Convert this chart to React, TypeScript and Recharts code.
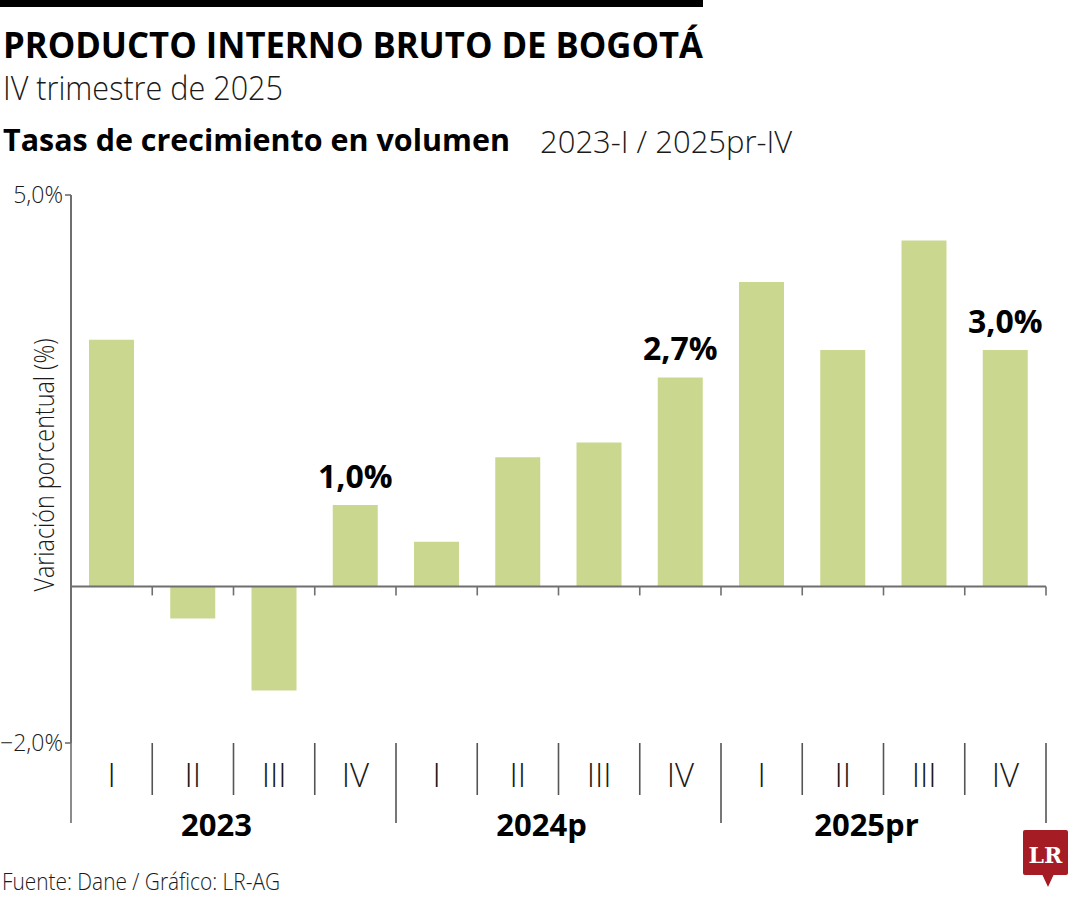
import type React from 'react'
import { Bar, BarChart, LabelList, ReferenceLine, XAxis, YAxis } from 'recharts'

const FUENTE = '"Open Sans", "Noto Sans", sans-serif'
const COR_BARRA = '#cad78e'
const COR_EIXO = '#6f6f6f'

const trimestres = ['I', 'II', 'III', 'IV', 'I', 'II', 'III', 'IV', 'I', 'II', 'III', 'IV']
const anios = ['2023', '2024p', '2025pr']
const valores = [3.15, -0.41, -1.33, 1.04, 0.57, 1.65, 1.84, 2.67, 3.89, 3.02, 4.42, 3.02]
const etiquetas = ['', '', '', '1,0%', '', '', '', '2,7%', '', '', '', '3,0%']
const ticksY = [-2, 5]

const dados = valores.map((v, i) => ({
  clave: `${anios[Math.floor(i / 4)]}-${trimestres[i]}`,
  valor: v,
  etiqueta: etiquetas[i]
}))

function TickTrimestre(props: any): React.JSX.Element {
  const { x, y, payload, index } = props
  const medio = payload?.offset ?? 40
  const finAnio = index % 4 === 3
  return (
    <g>
      <text
        x={x}
        y={y + 44}
        textAnchor="middle"
        fontFamily={FUENTE}
        fontWeight={300}
        fontSize={33}
        fill="#1a1a1a"
      >
        {trimestres[index]}
      </text>
      <line
        x1={x + medio}
        x2={x + medio}
        y1={y}
        y2={y + (finAnio ? 80 : 52)}
        stroke="#555"
        strokeWidth={1.6}
      />
      {index === 0 && (
        <line x1={x - medio} x2={x - medio} y1={y} y2={y + 80} stroke={COR_EIXO} strokeWidth={1.6} />
      )}
      {index % 4 === 1 && (
        <text
          x={x + medio - 17}
          y={y + 93}
          textAnchor="middle"
          fontFamily={FUENTE}
          fontWeight={700}
          fontSize={31}
          fill="#000"
        >
          {anios[Math.floor(index / 4)]}
        </text>
      )}
    </g>
  )
}

function LineaCero(props: any): React.JSX.Element {
  const { x1, y1, x2 } = props
  const paso = (x2 - x1) / valores.length
  return (
    <g>
      <line x1={x1} x2={x2} y1={y1} y2={y1} stroke={COR_EIXO} strokeWidth={2} />
      {valores.map((_, i) => (
        <line
          key={i}
          x1={x1 + paso * (i + 1)}
          x2={x1 + paso * (i + 1)}
          y1={y1}
          y2={y1 + 9}
          stroke={COR_EIXO}
          strokeWidth={1.6}
        />
      ))}
    </g>
  )
}

export default function App(): React.JSX.Element {
  return (
    <div style={{ position: 'absolute', left: 0, top: 0, width: 1080, height: 900, background: '#fff' }}>
      <BarChart
        width={1080}
        height={900}
        data={dados}
        margin={{ top: 195, right: 34, left: 0, bottom: 0 }}
      >
        <XAxis
          dataKey="clave"
          height={157}
          axisLine={false}
          tickLine={false}
          tickSize={0}
          tickMargin={0}
          interval={0}
          tick={<TickTrimestre />}
        />
        <YAxis
          width={71}
          domain={[-2, 5]}
          ticks={ticksY}
          allowDataOverflow
          axisLine={{ stroke: COR_EIXO, strokeWidth: 2 }}
          tickLine={{ stroke: COR_EIXO, strokeWidth: 1.6 }}
          tickSize={6}
          tickMargin={2}
          tickFormatter={(v: number) => `${v < 0 ? '−' : ''}${Math.abs(v).toFixed(1).replace('.', ',')}%`}
          tick={{ fontFamily: FUENTE, fontWeight: 300, fontSize: 23, fill: '#1a1a1a' }}
        />
        <Bar dataKey="valor" fill={COR_BARRA} barSize={45} isAnimationActive={false}>
          <LabelList
            dataKey="etiqueta"
            position="top"
            offset={17}
            style={{ fontFamily: FUENTE, fontWeight: 700, fontSize: 32, fill: '#000' }}
          />
        </Bar>
        <ReferenceLine y={0} shape={<LineaCero />} />
      </BarChart>

      <svg
        width={1080}
        height={900}
        style={{ position: 'absolute', left: 0, top: 0, pointerEvents: 'none' }}
      >
        <rect x={0} y={0} width={703} height={7} fill="#000" />
        <text
          x={3}
          y={58}
          fontFamily={FUENTE}
          fontWeight={700}
          fontSize={35}
          fill="#000"
          textLength={700}
          lengthAdjust="spacingAndGlyphs"
        >
          PRODUCTO INTERNO BRUTO DE BOGOTÁ
        </text>
        <text
          x={3}
          y={100}
          fontFamily={FUENTE}
          fontWeight={300}
          fontSize={33}
          fill="#1a1a1a"
          textLength={280}
          lengthAdjust="spacingAndGlyphs"
        >
          IV trimestre de 2025
        </text>
        <text
          x={3}
          y={151}
          fontFamily={FUENTE}
          fontWeight={700}
          fontSize={31}
          fill="#000"
          textLength={507}
          lengthAdjust="spacingAndGlyphs"
        >
          Tasas de crecimiento en volumen
        </text>
        <text x={540} y={153} fontFamily={FUENTE} fontWeight={300} fontSize={31} fill="#1a1a1a">
          2023-I / 2025pr-IV
        </text>
        <text
          x={0}
          y={0}
          transform="translate(54 465) rotate(-90)"
          textAnchor="middle"
          fontFamily={FUENTE}
          fontWeight={300}
          fontSize={28}
          fill="#1a1a1a"
          textLength={253}
          lengthAdjust="spacingAndGlyphs"
        >
          Variación porcentual (%)
        </text>
        <text
          x={2}
          y={890}
          fontFamily={FUENTE}
          fontWeight={300}
          fontSize={24}
          fill="#1a1a1a"
          textLength={278}
          lengthAdjust="spacingAndGlyphs"
        >
          Fuente: Dane / Gráfico: LR-AG
        </text>
        <g>
          <rect x={1023} y={830} width={45} height={45} rx={2} fill="#a51c24" />
          <path d="M1042 874 L1048 887 L1054 874 Z" fill="#a51c24" />
          <text
            x={1045.5}
            y={863}
            textAnchor="middle"
            fontFamily='"DejaVu Serif", "Liberation Serif", serif'
            fontWeight={700}
            fontSize={22}
            fill="#fff"
          >
            LR
          </text>
        </g>
      </svg>
    </div>
  )
}
